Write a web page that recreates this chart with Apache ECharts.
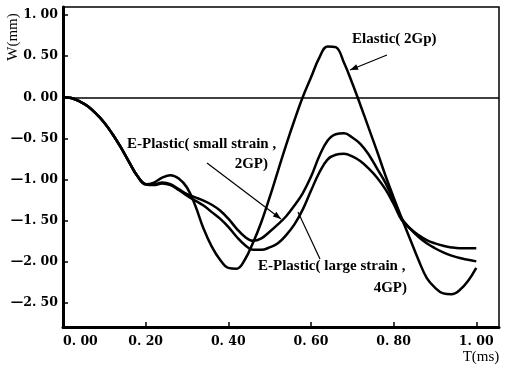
<!DOCTYPE html>
<html>
<head>
<meta charset="utf-8">
<script src="https://cdn.jsdelivr.net/npm/echarts@6/dist/echarts.min.js"></script>
<style>
  html, body { margin: 0; padding: 0; background: #fff; }
  #chart { width: 509px; height: 372px; }
</style>
</head>
<body>
<div id="chart"></div>
<script>
// time axis (ms)
var timeMs = [0.00, 0.02, 0.04, 0.06, 0.08, 0.10, 0.12, 0.14, 0.16, 0.18,
  0.20, 0.22, 0.24, 0.26, 0.28, 0.30, 0.32, 0.34, 0.36, 0.38,
  0.40, 0.42, 0.44, 0.46, 0.48, 0.50, 0.52, 0.54, 0.56, 0.58,
  0.60, 0.62, 0.64, 0.66, 0.68, 0.70, 0.72, 0.74, 0.76, 0.78,
  0.80, 0.82, 0.84, 0.86, 0.88, 0.90, 0.92, 0.94, 0.96, 0.98, 1.00];

// W (mm)
var elasticW = [0, -0.01, -0.05, -0.11, -0.2, -0.31, -0.45, -0.61, -0.79, -0.96,
  -1.06, -1.04, -0.98, -0.95, -0.99, -1.1, -1.32, -1.6, -1.82, -1.98,
  -2.08, -2.09, -1.98, -1.77, -1.52, -1.22, -0.9, -0.58, -0.28, 0.0,
  0.24, 0.48, 0.62, 0.61, 0.42, 0.17, -0.1, -0.38, -0.66, -0.95,
  -1.22, -1.48, -1.73, -1.98, -2.2, -2.32, -2.39, -2.4, -2.35, -2.24, -2.08];

var smallStrainW = [0, -0.01, -0.05, -0.11, -0.2, -0.31, -0.45, -0.61, -0.79, -0.96,
  -1.06, -1.06, -1.04, -1.06, -1.12, -1.18, -1.22, -1.26, -1.31, -1.38,
  -1.48, -1.6, -1.7, -1.75, -1.72, -1.64, -1.55, -1.45, -1.32, -1.17,
  -0.97, -0.72, -0.53, -0.45, -0.44, -0.49, -0.57, -0.7, -0.87, -1.04,
  -1.26, -1.48, -1.6, -1.7, -1.78, -1.84, -1.89, -1.93, -1.96, -1.98, -2.0];

var largeStrainW = [0, -0.01, -0.05, -0.11, -0.2, -0.31, -0.45, -0.61, -0.79, -0.96,
  -1.06, -1.07, -1.05, -1.07, -1.13, -1.2, -1.26, -1.32, -1.4, -1.48,
  -1.58, -1.7, -1.8, -1.86, -1.86, -1.83, -1.78, -1.68, -1.55, -1.37,
  -1.14, -0.92, -0.76, -0.7, -0.69, -0.72, -0.78, -0.87, -0.98, -1.12,
  -1.3, -1.5, -1.6, -1.68, -1.74, -1.78, -1.81, -1.83, -1.84, -1.84, -1.84];

var xTicks = [0, 0.2, 0.4, 0.6, 0.8, 1.0];
var yTicks = [1, 0.5, 0, -0.5, -1, -1.5, -2, -2.5];

function pairs(ys) {
  return timeMs.map(function (t, i) { return [t, ys[i]]; });
}

function fmt(v) {
  var s = Math.abs(v).toFixed(2).replace('.', '. ');
  return v < 0 ? '\u2014' + s : s;
}

var serif = '"Liberation Serif", "DejaVu Serif", serif';

// arrow: line plus a small filled head at the end point
function arrow(x0, y0, x1, y1, head) {
  var items = [{
    type: 'line',
    shape: { x1: x0, y1: y0, x2: x1, y2: y1 },
    style: { stroke: '#000', lineWidth: 1.2 }
  }];
  if (head) {
    var a = Math.atan2(y1 - y0, x1 - x0), L = 8, W = 3;
    var bx = x1 - L * Math.cos(a), by = y1 - L * Math.sin(a);
    items.push({
      type: 'polygon',
      shape: { points: [[x1, y1],
        [bx + W * Math.sin(a), by - W * Math.cos(a)],
        [bx - W * Math.sin(a), by + W * Math.cos(a)]] },
      style: { fill: '#000' }
    });
  }
  return items;
}

function label(text, x, y, align) {
  return {
    type: 'text', x: x, y: y,
    style: { text: text, font: 'bold 15px ' + serif, fill: '#000',
      align: align || 'left', verticalAlign: 'middle' }
  };
}

var chart = echarts.init(document.getElementById('chart'), null, { renderer: 'canvas' });

var lineStyle = { color: '#000', width: 2.5 };

var option = {
  backgroundColor: '#fff',
  animation: false,
  grid: { left: 63, right: 10, top: 7, bottom: 45, show: true,
    borderColor: '#000', borderWidth: 1.5 },
  xAxis: {
    type: 'value', min: 0, max: 1.055,
    axisLine: { onZero: false, lineStyle: { color: '#000', width: 3 } },
    axisTick: { inside: true, length: 5, customValues: xTicks,
      lineStyle: { color: '#000', width: 1.5 } },
    axisLabel: { customValues: xTicks, formatter: fmt, color: '#000',
      fontFamily: 'DejaVu Serif', fontWeight: 'bold', fontSize: 12.5,
      margin: 8, alignMinLabel: 'left' },
    splitLine: { show: false }
  },
  yAxis: {
    type: 'value', min: -2.8, max: 1.1,
    axisLine: { lineStyle: { color: '#000', width: 3 } },
    axisTick: { inside: true, length: 5, customValues: yTicks,
      lineStyle: { color: '#000', width: 1.5 } },
    axisLabel: { customValues: yTicks, formatter: fmt, color: '#000',
      fontFamily: 'DejaVu Serif', fontWeight: 'bold', fontSize: 12.5,
      margin: 5 },
    splitLine: { show: false }
  },
  series: [
    {
      name: 'Elastic(2Gp)', type: 'line', data: pairs(elasticW),
      smooth: 0.4, showSymbol: false, lineStyle: lineStyle,
      markLine: {
        silent: true, symbol: 'none', label: { show: false },
        lineStyle: { color: '#000', width: 1.5, type: 'solid' },
        data: [{ yAxis: 0 }]
      }
    },
    {
      name: 'E-Plastic(small strain, 2GP)', type: 'line', data: pairs(smallStrainW),
      smooth: 0.4, showSymbol: false, lineStyle: lineStyle
    },
    {
      name: 'E-Plastic(large strain, 4GP)', type: 'line', data: pairs(largeStrainW),
      smooth: 0.4, showSymbol: false, lineStyle: lineStyle
    }
  ],
  graphic: [].concat(
    [{
      type: 'text', x: 13, y: 37, rotation: Math.PI / 2,
      style: { text: 'W(mm)', font: '15px ' + serif, fill: '#000',
        align: 'center', verticalAlign: 'middle' }
    },
    {
      type: 'text', x: 481, y: 357,
      style: { text: 'T(ms)', font: '15px ' + serif, fill: '#000',
        align: 'center', verticalAlign: 'middle' }
    },
    label('Elastic( 2Gp)', 352, 39),
    label('E-Plastic( small strain ,', 127, 144),
    label('2GP)', 268, 164, 'right'),
    label('E-Plastic( large strain ,', 258, 266),
    label('4GP)', 407, 288, 'right')],
    arrow(387, 55, 350, 70, true),
    arrow(207, 163, 281, 219, true),
    arrow(320, 259, 298, 212, false)
  )
};

chart.setOption(option);
</script>
</body>
</html>
